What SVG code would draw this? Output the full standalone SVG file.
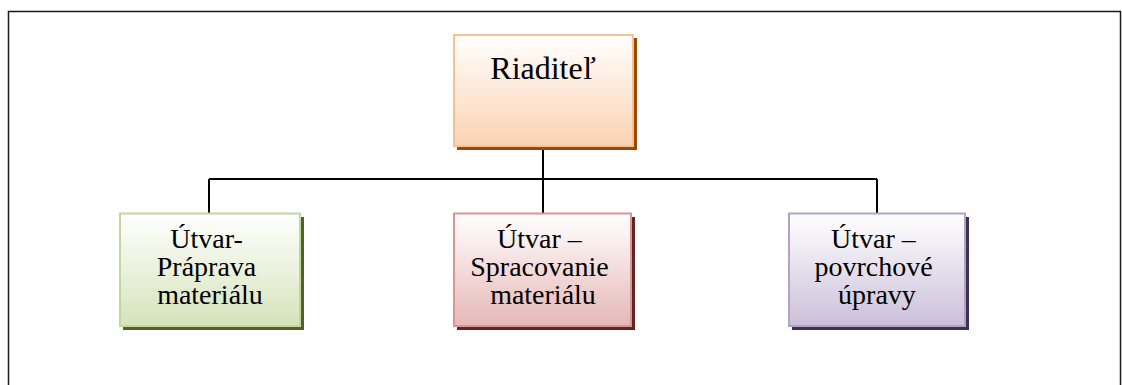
<svg xmlns="http://www.w3.org/2000/svg" width="1122" height="385" viewBox="0 0 1122 385">
  <defs>
    <linearGradient id="gOrange" x1="0" y1="0" x2="0" y2="1">
      <stop offset="0" stop-color="#ffffff"/>
      <stop offset="1" stop-color="#fbd3b3"/>
    </linearGradient>
    <linearGradient id="gGreen" x1="0" y1="0" x2="0" y2="1">
      <stop offset="0" stop-color="#ffffff"/>
      <stop offset="1" stop-color="#d6e3bb"/>
    </linearGradient>
    <linearGradient id="gRed" x1="0" y1="0" x2="0" y2="1">
      <stop offset="0" stop-color="#ffffff"/>
      <stop offset="1" stop-color="#e6b8b7"/>
    </linearGradient>
    <linearGradient id="gPurple" x1="0" y1="0" x2="0" y2="1">
      <stop offset="0" stop-color="#ffffff"/>
      <stop offset="1" stop-color="#cbc0d9"/>
    </linearGradient>
  </defs>
  <style>
    .frame { fill: #ffffff; stroke: #1a1a1a; stroke-width: 1.5; }
    .link { fill: none; stroke: #000000; stroke-width: 2; }
    text { font-family: 'Liberation Serif', 'DejaVu Serif', serif; fill: #000000; text-anchor: middle; }
  </style>

  <rect class="frame" x="8.5" y="11.5" width="1112" height="400"/>

  <g id="connectors">
    <path class="link" d="M543 146 V179"/>
    <path class="link" d="M209 179 H877"/>
    <path class="link" d="M209 179 V213"/>
    <path class="link" d="M543 179 V213"/>
    <path class="link" d="M877 179 V213"/>
  </g>

  <g id="node-riaditel">
    <rect x="457" y="38" width="180" height="112" fill="#984807"/>
    <rect x="454" y="35" width="179" height="111" fill="url(#gOrange)" stroke="#fac08f" stroke-width="2"/>
    <text x="543" y="79" font-size="32" font-family="Liberation Serif, DejaVu Serif, serif">Riaditeľ</text>
  </g>

  <g id="node-praprava">
    <rect x="123" y="217" width="181" height="113" fill="#4f6228"/>
    <rect x="120" y="213.5" width="180" height="112.5" fill="url(#gGreen)" stroke="#c3d69b" stroke-width="2"/>
    <text font-size="28" font-family="Liberation Serif, DejaVu Serif, serif">
      <tspan x="210" y="248">Útvar-</tspan>
      <tspan x="210" y="276">Práprava</tspan>
      <tspan x="210" y="304">materiálu</tspan>
    </text>
  </g>

  <g id="node-spracovanie">
    <rect x="457" y="217" width="178" height="113" fill="#632523"/>
    <rect x="454" y="213.5" width="177" height="112.5" fill="url(#gRed)" stroke="#d99694" stroke-width="2"/>
    <text font-size="28" font-family="Liberation Serif, DejaVu Serif, serif">
      <tspan x="543" y="248">Útvar –</tspan>
      <tspan x="543" y="276">Spracovanie</tspan>
      <tspan x="543" y="304">materiálu</tspan>
    </text>
  </g>

  <g id="node-povrchove">
    <rect x="792" y="217" width="177" height="113" fill="#3f3151"/>
    <rect x="789" y="213.5" width="176" height="112.5" fill="url(#gPurple)" stroke="#b3a2c7" stroke-width="2"/>
    <text font-size="28" font-family="Liberation Serif, DejaVu Serif, serif">
      <tspan x="877" y="248">Útvar –</tspan>
      <tspan x="877" y="276">povrchové</tspan>
      <tspan x="877" y="304">úpravy</tspan>
    </text>
  </g>
</svg>
